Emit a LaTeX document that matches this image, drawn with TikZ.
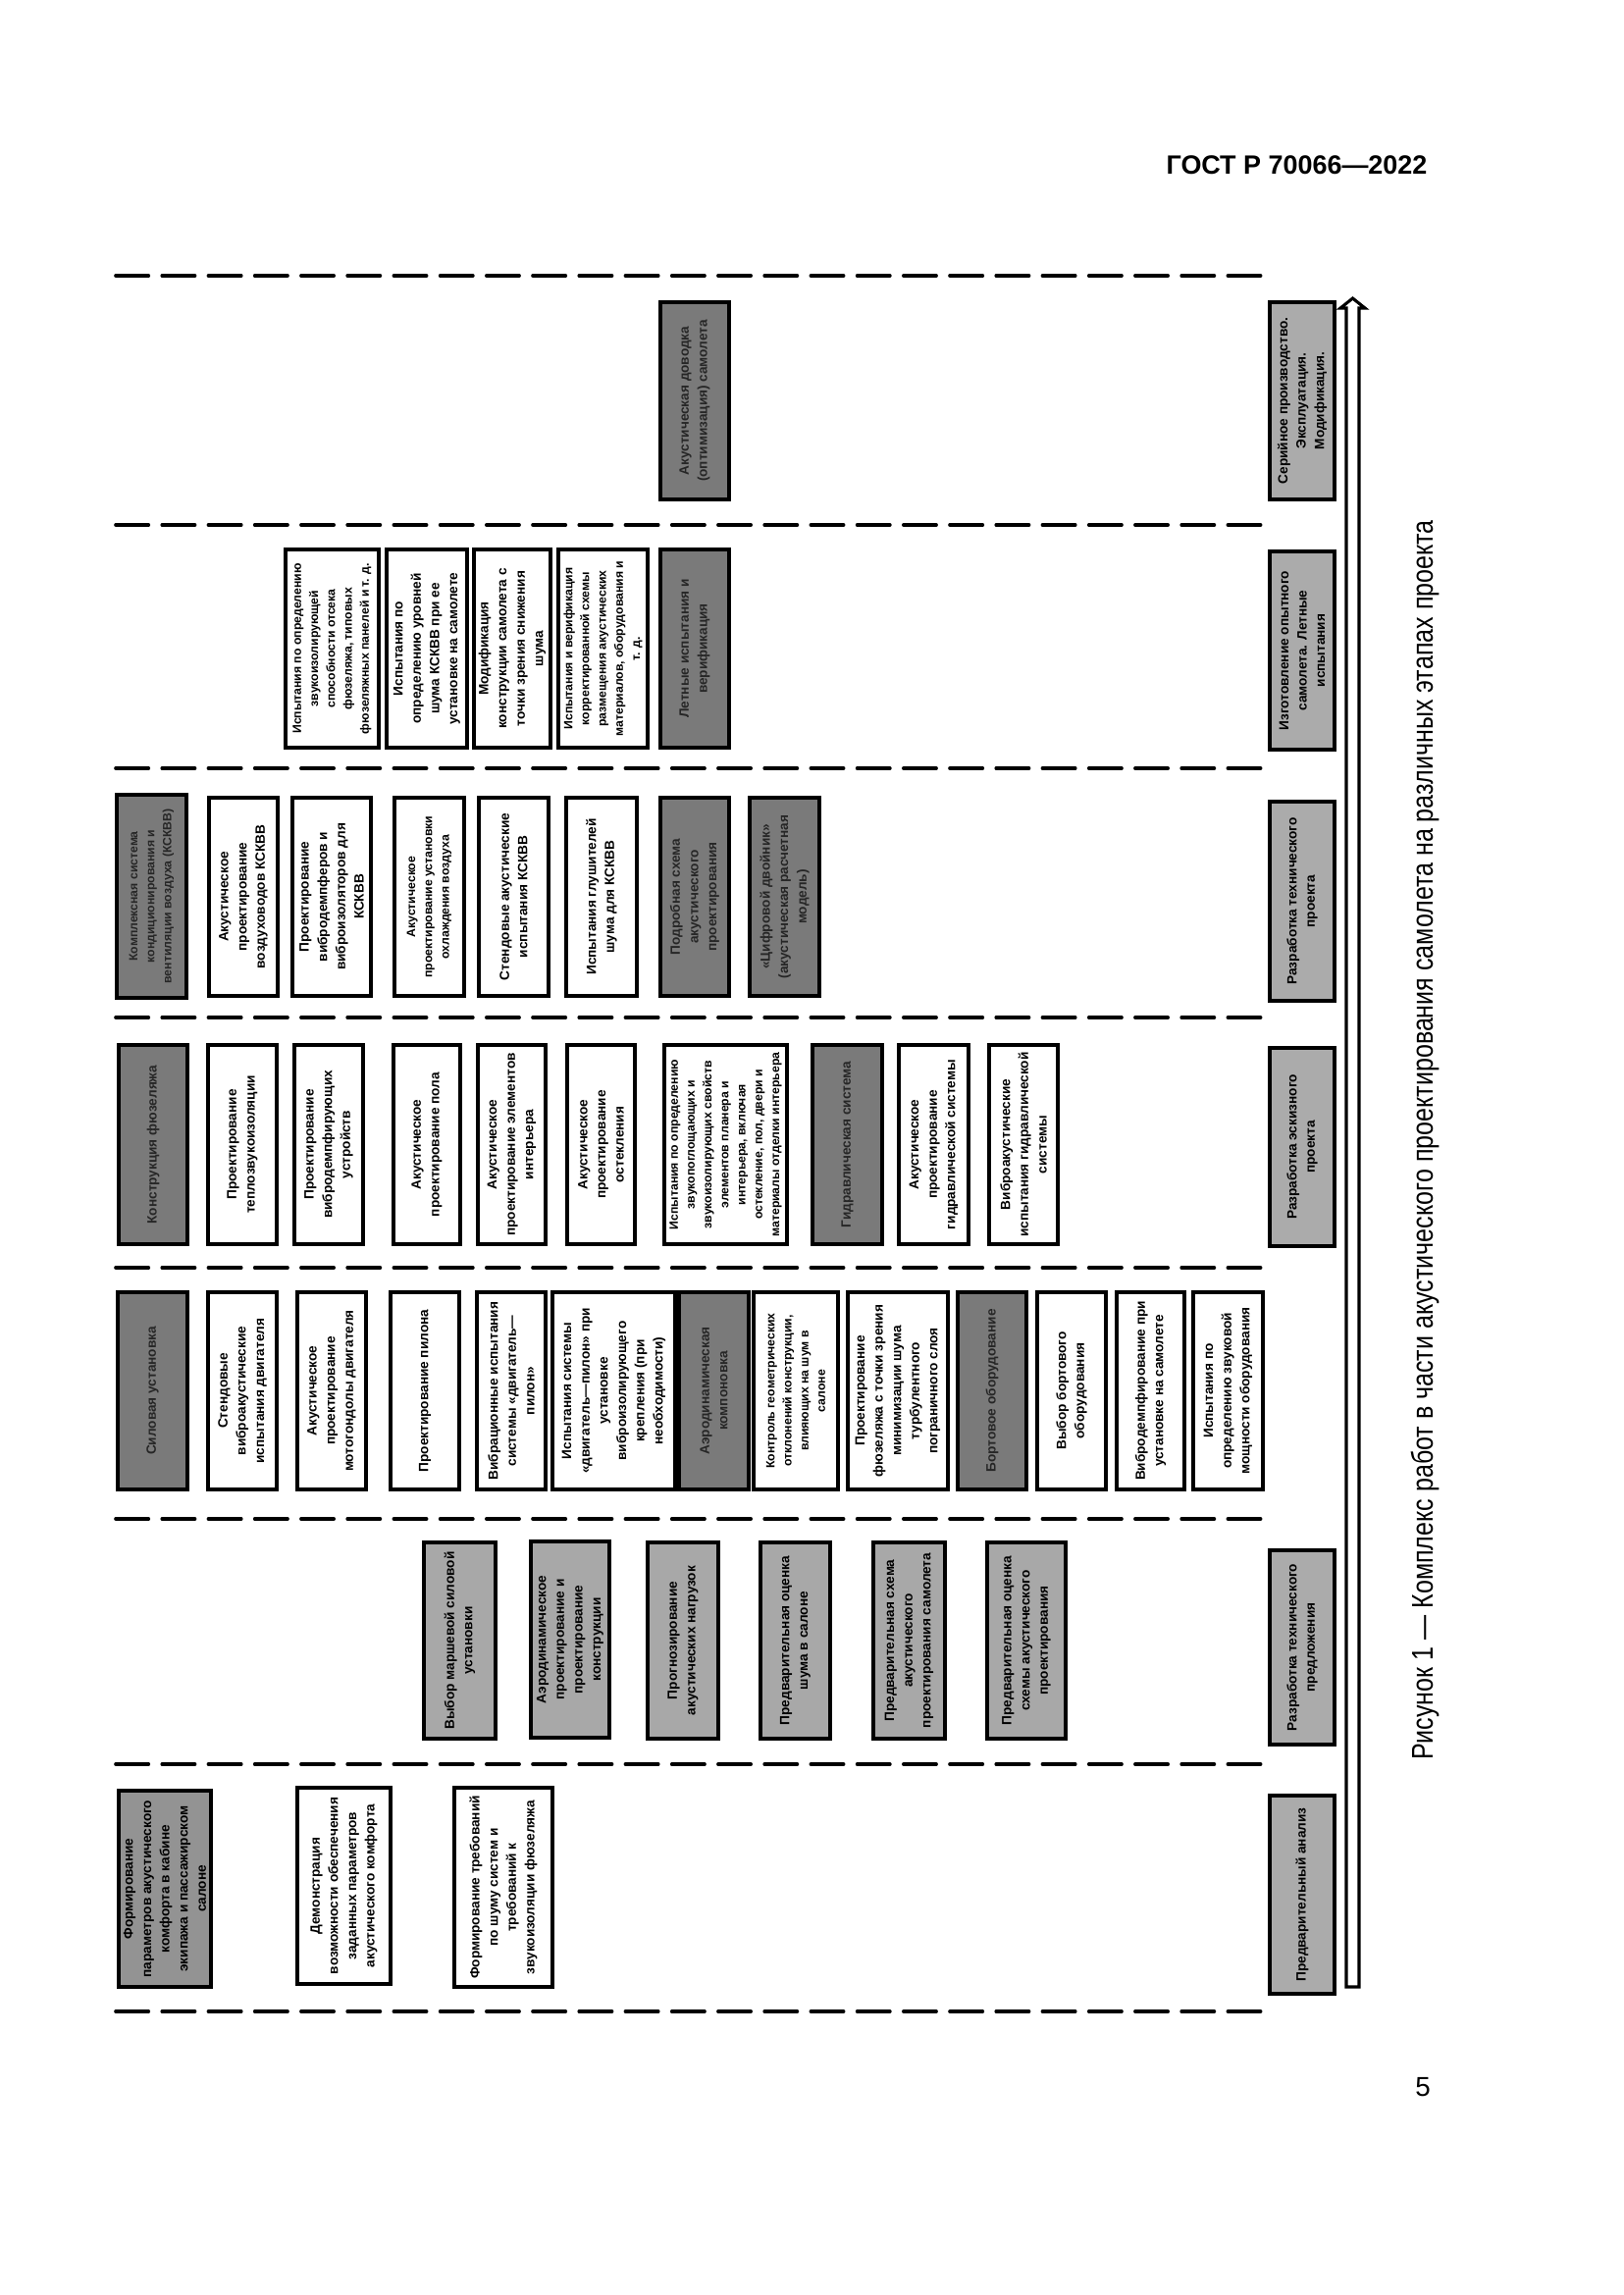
\documentclass[tikz,border=0pt]{standalone}
\usepackage{fontspec}
\setmainfont{Liberation Sans}
\definecolor{dk}{HTML}{7A7A7A}
\definecolor{md}{HTML}{939393}
\definecolor{lt}{HTML}{A8A8A8}
\definecolor{st}{HTML}{ABABAB}
\tikzset{
  box/.style={draw=black, line width=1.1pt, rotate=90, align=center, inner sep=1pt,
    font=\bfseries\fontsize{4.9}{6.7}\selectfont, text=black},
  whitebox/.style={box, fill=white},
  darkbox/.style={box, fill=dk, text=black!85},
  lightbox/.style={box, fill=lt},
  midbox/.style={box, fill=md},
  stagebox/.style={box, fill=st},
  dense/.style={font=\bfseries\fontsize{4.4}{6.2}\selectfont},
  sepline/.style={line width=1.3pt, dash pattern=on 12pt off 5pt, line cap=round},
  arrowline/.style={line width=1.1pt, line join=miter},
}
\newcommand\bx[7]{%
  \pgfmathsetmacro\bxw{(#4-#2)*0.36}%
  \pgfmathsetmacro\bxh{(#5-#3)*0.36}%
  \node[#6, minimum width=\bxh pt, minimum height=\bxw pt] (#1) at ({(#2+#4)/2},{(#3+#5)/2}) {#7};}
\begin{document}
\begin{tikzpicture}[x=0.36pt, y=-0.36pt]
\useasboundingbox (0,0) rectangle (1654,2339);
\fill[white] (0,0) rectangle (1654,2339);

% header, caption, page number
\node[anchor=base east, inner sep=0pt, font=\bfseries\fontsize{9.7}{11}\selectfont] (hdr) at (1455,177) {ГОСТ Р 70066—2022};
\node[rotate=90, inner sep=0pt, font=\fontsize{11}{13}\selectfont] (cap) at (1452,1162) {\scalebox{0.82}[1]{Рисунок 1 — Комплекс работ в части акустического проектирования самолета на различных этапах проекта}};
\node[inner sep=0pt, font=\fontsize{10}{12}\selectfont] (pg) at (1450,2127) {5};

% separators
\foreach \yy in {281,535,783,1037,1292,1548,1798,2050}
  \draw[sepline] (118,\yy) -- (1298,\yy);

% time arrow
\draw[arrowline] (1372,2025) -- (1372,314) -- (1366,314) -- (1378.5,304) -- (1391,314) -- (1385,314) -- (1385,2025) -- cycle;

% row 1
\bx{a1}{121}{1825}{215}{2025}{midbox}{Формирование\\параметров акустического\\комфорта в кабине\\экипажа и пассажирском\\салоне}
\bx{a2}{303}{1822}{398}{2022}{whitebox}{Демонстрация\\возможности обеспечения\\заданных параметров\\акустического комфорта}
\bx{a3}{463}{1822}{563}{2025}{whitebox}{Формирование требований\\по шуму систем и\\требований к\\звукоизоляции фюзеляжа}
\bx{s1}{1294}{1830}{1360}{2032}{stagebox}{Предварительный анализ}

% row 2
\bx{b1}{432}{1572}{505}{1772}{lightbox}{Выбор маршевой силовой\\установки}
\bx{b2}{541}{1571}{621}{1771}{lightbox}{Аэродинамическое\\проектирование и\\проектирование\\конструкции}
\bx{b3}{660}{1572}{732}{1772}{lightbox}{Прогнозирование\\акустических нагрузок}
\bx{b4}{775}{1572}{846}{1772}{lightbox}{Предварительная оценка\\шума в салоне}
\bx{b5}{890}{1572}{963}{1772}{lightbox}{Предварительная схема\\акустического\\проектирования самолета}
\bx{b6}{1006}{1572}{1086}{1772}{lightbox}{Предварительная оценка\\схемы акустического\\проектирования}
\bx{s2}{1294}{1580}{1360}{1778}{stagebox}{Разработка технического\\предложения}

% row 3
\bx{c1}{120}{1317}{191}{1518}{darkbox}{Силовая установка}
\bx{c2}{212}{1317}{282}{1518}{whitebox}{Стендовые\\виброакустические\\испытания двигателя}
\bx{c3}{303}{1317}{373}{1518}{whitebox}{Акустическое\\проектирование\\мотогондолы двигателя}
\bx{c4}{398}{1317}{468}{1518}{whitebox}{Проектирование пилона}
\bx{c5}{486}{1317}{556}{1518}{whitebox}{Вибрационные испытания\\системы «двигатель—\\пилон»}
\bx{c6}{563}{1317}{688}{1518}{whitebox}{Испытания системы\\«двигатель—пилон» при\\установке\\виброизолирующего\\крепления (при\\необходимости)}
\bx{c7}{692}{1317}{763}{1518}{darkbox}{Аэродинамическая\\компоновка}
\bx{c8}{768}{1317}{854}{1518}{whitebox,dense}{Контроль геометрических\\отклонений конструкции,\\влияющих на шум в\\салоне}
\bx{c9}{864}{1317}{966}{1518}{whitebox}{Проектирование\\фюзеляжа с точки зрения\\минимизации шума\\турбулентного\\пограничного слоя}
\bx{c10}{976}{1317}{1046}{1518}{darkbox}{Бортовое оборудование}
\bx{c11}{1057}{1317}{1127}{1518}{whitebox}{Выбор бортового\\оборудования}
\bx{c12}{1138}{1317}{1207}{1518}{whitebox}{Вибродемпфирование при\\установке на самолете}
\bx{c13}{1216}{1317}{1287}{1518}{whitebox}{Испытания по\\определению звуковой\\мощности оборудования}

% row 4
\bx{d1}{121}{1065}{191}{1268}{darkbox}{Конструкция фюзеляжа}
\bx{d2}{212}{1065}{282}{1268}{whitebox}{Проектирование\\теплозвукоизоляции}
\bx{d3}{300}{1065}{370}{1268}{whitebox}{Проектирование\\вибродемпфирующих\\устройств}
\bx{d4}{401}{1065}{469}{1268}{whitebox}{Акустическое\\проектирование пола}
\bx{d5}{487}{1065}{556}{1268}{whitebox}{Акустическое\\проектирование элементов\\интерьера}
\bx{d6}{578}{1065}{647}{1268}{whitebox}{Акустическое\\проектирование\\остекления}
\bx{d7}{677}{1065}{802}{1268}{whitebox,dense}{Испытания по определению\\звукопоглощающих и\\звукоизолирующих свойств\\элементов планера и\\интерьера, включая\\остекление, пол, двери и\\материалы отделки интерьера}
\bx{d8}{828}{1065}{899}{1268}{darkbox}{Гидравлическая система}
\bx{d9}{916}{1065}{987}{1268}{whitebox}{Акустическое\\проектирование\\гидравлической системы}
\bx{d10}{1008}{1065}{1078}{1268}{whitebox}{Виброакустические\\испытания гидравлической\\системы}
\bx{s4}{1294}{1068}{1360}{1270}{stagebox}{Разработка эскизного\\проекта}

% row 5
\bx{e1}{119}{810}{190}{1017}{darkbox,dense}{Комплексная система\\кондиционирования и\\вентиляции воздуха (КСКВВ)}
\bx{e2}{213}{813}{283}{1015}{whitebox}{Акустическое\\проектирование\\воздуховодов КСКВВ}
\bx{e3}{298}{813}{378}{1015}{whitebox}{Проектирование\\вибродемпферов и\\виброизоляторов для\\КСКВВ}
\bx{e4}{402}{813}{473}{1015}{whitebox,dense}{Акустическое\\проектирование установки\\охлаждения воздуха}
\bx{e5}{488}{813}{559}{1015}{whitebox}{Стендовые акустические\\испытания КСКВВ}
\bx{e6}{577}{813}{649}{1015}{whitebox}{Испытания глушителей\\шума для КСКВВ}
\bx{e7}{673}{813}{743}{1015}{darkbox}{Подробная схема\\акустического\\проектирования}
\bx{e8}{764}{813}{835}{1015}{darkbox}{«Цифровой двойник»\\(акустическая расчетная\\модель)}
\bx{s5}{1294}{817}{1360}{1020}{stagebox}{Разработка технического\\проекта}

% row 6
\bx{f1}{291}{560}{386}{762}{whitebox,dense}{Испытания по определению\\звукоизолирующей\\способности отсека\\фюзеляжа, типовых\\фюзеляжных панелей и т. д.}
\bx{f2}{394}{560}{476}{762}{whitebox}{Испытания по\\определению уровней\\шума КСКВВ при ее\\установке на самолете}
\bx{f3}{483}{560}{561}{762}{whitebox}{Модификация\\конструкции самолета с\\точки зрения снижения\\шума}
\bx{f4}{569}{560}{660}{762}{whitebox,dense}{Испытания и верификация\\корректированной схемы\\размещения акустических\\материалов, оборудования и\\т. д.}
\bx{f5}{673}{560}{743}{762}{darkbox}{Летные испытания и\\верификация}
\bx{s6}{1294}{562}{1360}{764}{stagebox}{Изготовление опытного\\самолета. Летные\\испытания}

% row 7
\bx{g1}{673}{308}{743}{509}{darkbox}{Акустическая доводка\\(оптимизация) самолета}
\bx{s7}{1294}{308}{1360}{509}{stagebox}{Серийное производство.\\Эксплуатация.\\Модификация.}
\end{tikzpicture}
\end{document}
